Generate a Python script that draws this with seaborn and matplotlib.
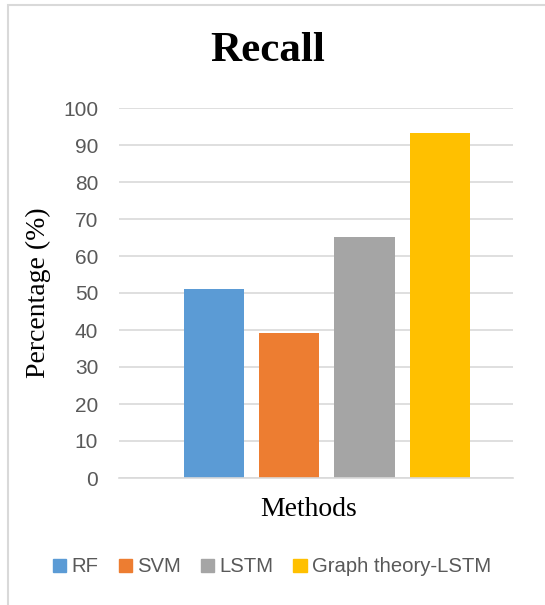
import pandas as pd
import matplotlib.pyplot as plt
import seaborn as sns
from matplotlib.patches import Rectangle

# Data
methods = ['RF', 'SVM', 'LSTM', 'Graph theory-LSTM']
recall = [51.1, 39.2, 65.1, 93.2]
colors = ['#5B9BD5', '#ED7D31', '#A5A5A5', '#FFC000']
yticks = [0, 10, 20, 30, 40, 50, 60, 70, 80, 90, 100]

df = pd.DataFrame({'Method': methods, 'Recall': recall})

sns.set_style('white')
plt.rcParams['font.family'] = ['Liberation Sans', 'DejaVu Sans']

fig = plt.figure(figsize=(5.45, 6.05), dpi=100)
ax = fig.add_axes([119 / 545, 1 - 478 / 605, (513 - 119) / 545, (478 - 108) / 605])

sns.barplot(data=df, x='Method', y='Recall', hue='Method', palette=colors,
            width=0.8, legend=False, ax=ax, saturation=1, linewidth=0)

ax.set_ylim(0, 100)
ax.set_xlim(-1.26, 3.97)
ax.set_yticks(yticks)
ax.set_xticks([])
ax.grid(axis='y', color='#d9d9d9', linewidth=1.2)
ax.set_axisbelow(True)
for s in ['top', 'right', 'left']:
    ax.spines[s].set_visible(False)
ax.spines['bottom'].set_color('#d9d9d9')
ax.spines['bottom'].set_linewidth(1.2)
ax.tick_params(axis='y', length=0, pad=15, labelsize=15, labelcolor='#595959')
ax.set_xlabel('')
ax.set_ylabel('')

# Titles in a Times-like serif
fig.text(268 / 545, 1 - 51 / 605, 'Recall', ha='center', va='center',
         family='Liberation Serif', fontsize=31, fontweight='bold', color='black')
fig.text(38 / 545, 1 - 293 / 605, 'Percentage (%)', ha='center', va='center',
         rotation=90, family='Liberation Serif', fontsize=20, color='black')
fig.text(309 / 545, 1 - 510 / 605, 'Methods', ha='center', va='center',
         family='Liberation Serif', fontsize=20, color='black')

# Legend below the plot
handles = [Rectangle((0, 0), 1, 1, color=c) for c in colors]
fig.legend(handles, methods, loc='center', bbox_to_anchor=(272 / 545, 1 - 567 / 605),
           ncol=4, frameon=False, fontsize=14.6, handlelength=0.65, handleheight=0.65,
           handletextpad=0.25, columnspacing=1.0, labelcolor='#595959')

# Light outer frame
fig.patches.append(Rectangle((8 / 545, -0.05), 1.1, 1.05 - 5 / 605,
                             transform=fig.transFigure, fill=False,
                             edgecolor='#d9d9d9', linewidth=1.5))

plt.savefig('out.png', dpi=100)
